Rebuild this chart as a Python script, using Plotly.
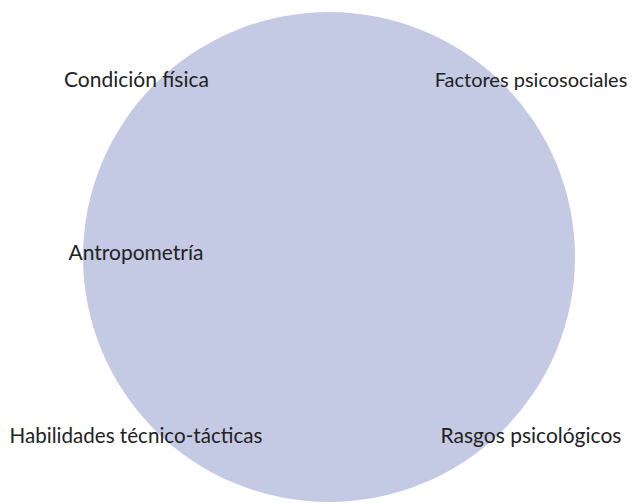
import plotly.graph_objects as go

labels = ["Condición física", "Factores psicosociales", "Antropometría",
          "Habilidades técnico-tácticas", "Rasgos psicológicos"]
label_x = [136.5, 531, 136, 136, 531]
label_y = [82, 82, 255, 438, 438]
label_size = [21, 20, 21, 20.6, 21]

circle_center = (329, 257)
circle_radius = (246, 245)

# page body has an 8px margin; size the figure to fit the window and
# offset the axis ranges so data units equal window pixels
OFF = 8
W, H = 635, 503

fig = go.Figure()
cx, cy = circle_center
rx, ry = circle_radius
fig.add_shape(type="circle", xref="x", yref="y",
              x0=cx - rx, x1=cx + rx, y0=cy - ry, y1=cy + ry,
              fillcolor="#C5CAE4", line=dict(width=0), layer="below")

fig.add_trace(go.Scatter(
    x=label_x, y=label_y, mode="text", text=labels,
    textposition="middle center",
    textfont=dict(family="Lato", size=label_size, color="#222222"),
    hoverinfo="skip", showlegend=False, cliponaxis=False))

fig.update_layout(
    width=W - OFF, height=H - OFF,
    margin=dict(l=0, r=0, t=0, b=0),
    paper_bgcolor="white", plot_bgcolor="white",
    xaxis=dict(range=[OFF, W], visible=False, fixedrange=True),
    yaxis=dict(range=[H, OFF], visible=False, fixedrange=True),
)
fig.write_html("out.html")
